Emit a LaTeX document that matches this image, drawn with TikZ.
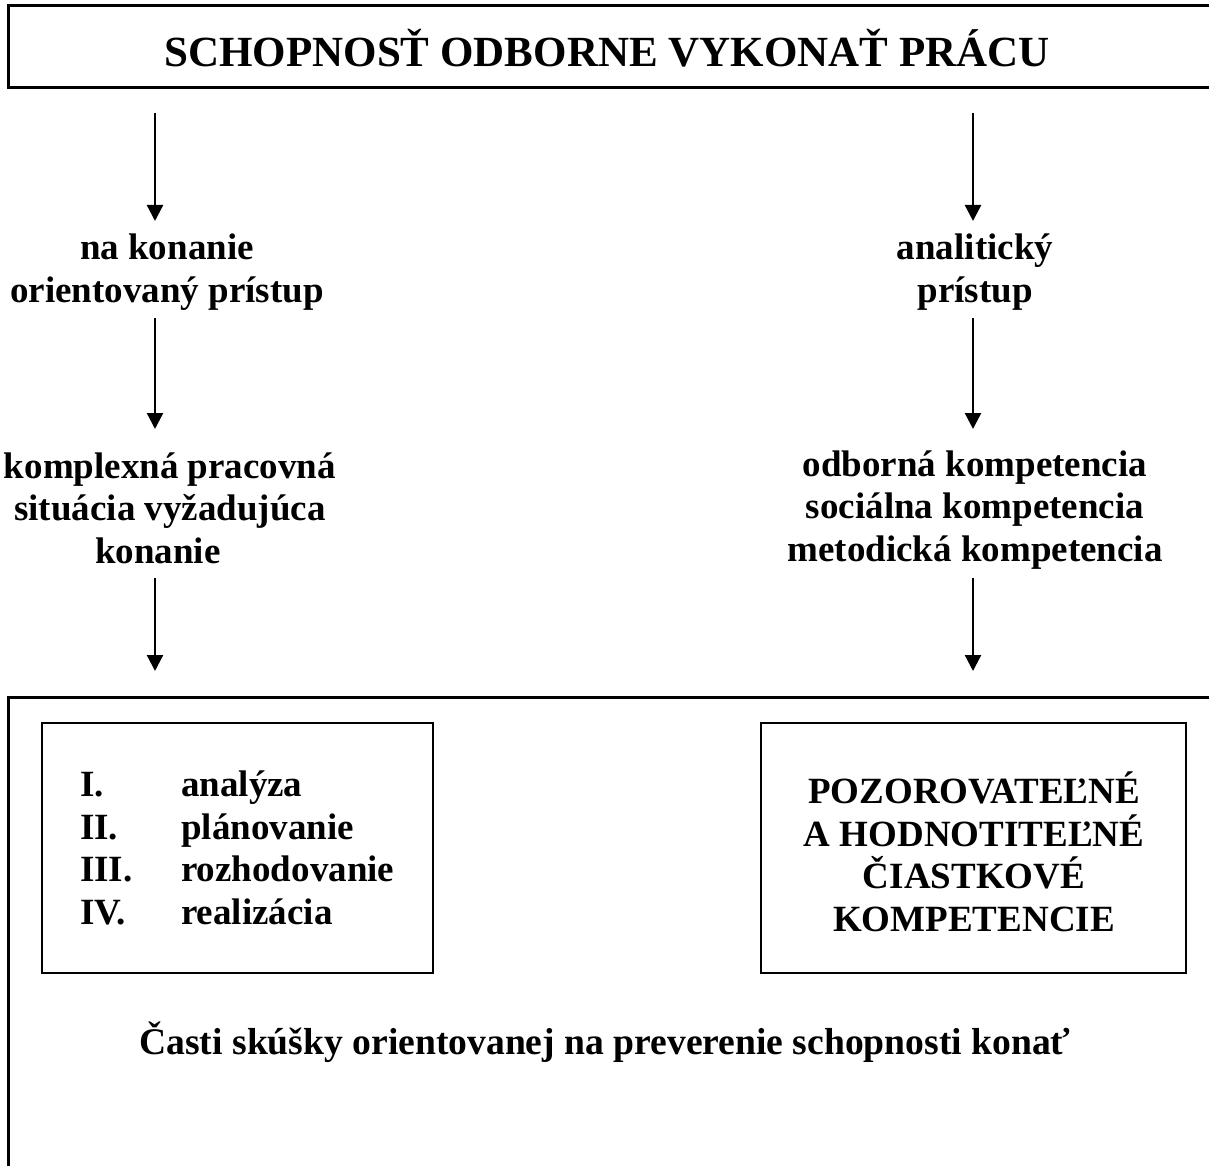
\documentclass[tikz,border=0pt]{standalone}
\usepackage{fontspec}
\setmainfont{Liberation Serif}
\usetikzlibrary{arrows.meta}
\tikzset{
  frame/.style={draw=black, line width=3pt},
  innerbox/.style={draw=black, line width=2.5pt},
  arr/.style={line width=2.3pt, -{Triangle[width=16pt,length=16pt]}},
  body/.style={font=\fontsize{37}{42.5}\selectfont\bfseries, align=center, inner sep=0pt},
  titlefont/.style={font=\fontsize{43}{48}\selectfont\bfseries, inner sep=0pt}
}
\begin{document}
\begin{tikzpicture}[x=1pt,y=-1pt]
\useasboundingbox[fill=white] (0,0) rectangle (1209,1166);
% outer frames
\draw[frame] (8,6) rectangle (1230,88);
\draw[frame] (8,697) rectangle (1230,1190);
\node[titlefont] (title) at (607,48) {SCHOPNOSŤ ODBORNE VYKONAŤ PRÁCU};
% left column
\node[body] (l1) at (167,272) {na konanie\\orientovaný prístup};
\node[body] (l2) at (170,508) {komplexná pracovná\\situácia vyžadujúca\\konanie\hspace*{24pt}};
% right column
\node[body] (r1) at (975,272) {analitický\\prístup};
\node[body] (r2) at (975,510) {odborná kompetencia\\sociálna kompetencia\\metodická kompetencia};
% inner boxes
\draw[innerbox] (42,723) rectangle (433,973);
\draw[innerbox] (761,723) rectangle (1186,973);
\node[body, anchor=west] (list) at (80,852) {\begin{tabular}{@{}p{101pt}@{}l@{}}I. & analýza\\ II. & plánovanie\\ III. & rozhodovanie\\ IV. & realizácia\end{tabular}};
\node[body] (obs) at (974,852) {POZOROVATEĽNÉ\\A HODNOTITEĽNÉ\\ČIASTKOVÉ\\KOMPETENCIE};
\node[body, font=\fontsize{37.6}{43}\selectfont\bfseries] (bottom) at (605,1042) {Časti skúšky orientovanej na preverenie schopnosti konať};
% arrow coordinates
\coordinate (a1s) at (155,113); \coordinate (a1e) at (155,221);
\coordinate (a2s) at (155,318); \coordinate (a2e) at (155,429);
\coordinate (a3s) at (155,578); \coordinate (a3e) at (155,671);
\coordinate (b1s) at (973,113); \coordinate (b1e) at (973,221);
\coordinate (b2s) at (973,318); \coordinate (b2e) at (973,429);
\coordinate (b3s) at (973,578); \coordinate (b3e) at (973,671);
\draw[arr] (a1s) -- (a1e);
\draw[arr] (a2s) -- (a2e);
\draw[arr] (a3s) -- (a3e);
\draw[arr] (b1s) -- (b1e);
\draw[arr] (b2s) -- (b2e);
\draw[arr] (b3s) -- (b3e);
\end{tikzpicture}
\end{document}
